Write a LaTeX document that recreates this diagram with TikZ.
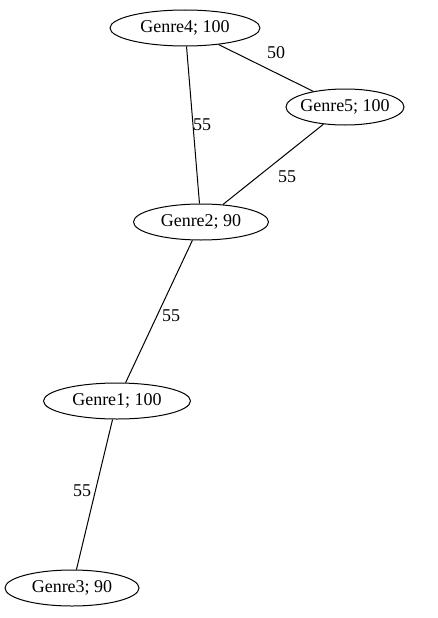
\documentclass[tikz,border=0pt]{standalone}
\usepackage{fontspec}
\setmainfont{Liberation Serif}
\usetikzlibrary{shapes.geometric}

\begin{document}
\begin{tikzpicture}[x=1pt, y=-1pt, font=\fontsize{18}{21}\selectfont,
  genre/.style={ellipse, draw, line width=1pt, inner xsep=-12pt, inner ysep=0pt, minimum height=36pt},
  wt/.style={inner sep=1pt},
  link/.style={draw, line width=1pt}]
  \useasboundingbox (0,0) rectangle (438,618);
  % genres
  \node[genre, minimum width=150pt] (g4) at (185,28)  {Genre4; 100};
  \node[genre, minimum width=118pt] (g5) at (345,107) {Genre5; 100};
  \node[genre, minimum width=135pt] (g2) at (201,222) {Genre2; 90};
  \node[genre, minimum width=147pt] (g1) at (117,401) {Genre1; 100};
  \node[genre, minimum width=134pt] (g3) at (72,588)  {Genre3; 90};
  % links
  \draw[link] (g4) -- (g5);
  \draw[link] (g4) -- (g2);
  \draw[link] (g5) -- (g2);
  \draw[link] (g2) -- (g1);
  \draw[link] (g1) -- (g3);
  % weights
  \node[wt] (w45) at (276,53)  {50};
  \node[wt] (w42) at (202,125) {55};
  \node[wt] (w52) at (287,177) {55};
  \node[wt] (w21) at (171,316) {55};
  \node[wt] (w13) at (82,491)  {55};
\end{tikzpicture}
\end{document}
